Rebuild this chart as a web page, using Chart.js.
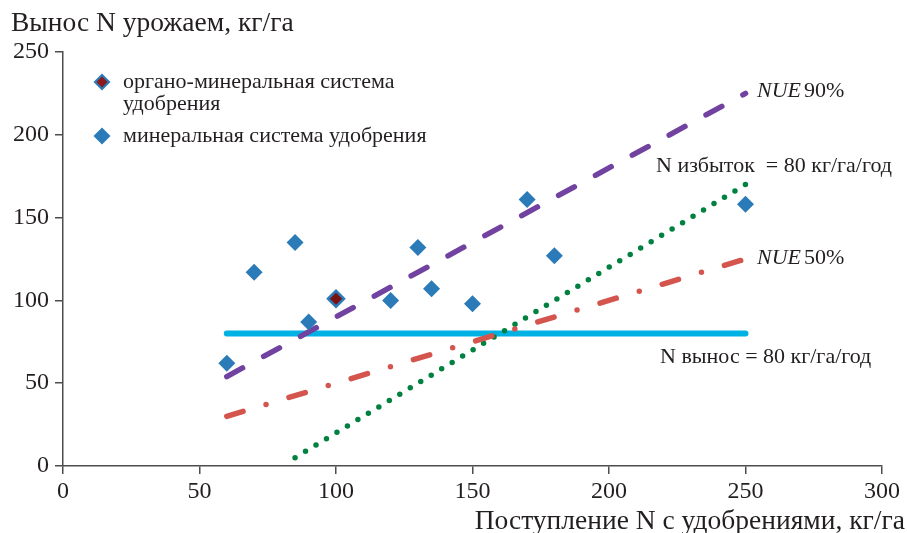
<!DOCTYPE html>
<html>
<head>
<meta charset="utf-8">
<script src="https://cdn.jsdelivr.net/npm/chart.js@4.4.1/dist/chart.umd.min.js"></script>
<style>
body { margin: 0; background: #fff; }
#wrap { width: 907px; height: 533px; }
</style>
</head>
<body>
<div id="wrap"><canvas id="grafico"></canvas></div>
<script>
// минеральная система удобрения
const dozaMin = [60, 70, 85, 90, 120, 130, 135, 150, 170, 180, 250];
const vynosMin = [62, 117, 135, 87, 100, 132, 107, 98, 161, 127, 158];
// органо-минеральная система удобрения
const dozaOrg = [100];
const vynosOrg = [101];
// линии
const liniyaX = [60, 250];
const nue90 = [54, 225];
const nue50 = [30, 125];
const izbytokX = [85, 250];
const izbytokY = [5, 170];
const vynos80 = [80, 80];

const xMax = 300;
const yMax = 250;
const shag = 50;

const tochki = (xs, ys) => xs.map((x, i) => ({ x: x, y: ys[i] }));

const cvetTekst = "#231f20";
const cvetOs = "#4d4d4f";
const sinij = "#2b7bb9";

const podpisi = {
    id: "podpisi",
    afterDraw(chart) {
        const ctx = chart.ctx;
        ctx.save();
        ctx.fillStyle = cvetTekst;
        ctx.textBaseline = "alphabetic";

        ctx.font = "27.5px 'Liberation Serif'";
        ctx.textAlign = "left";
        ctx.fillText("Вынос N урожаем, кг/га", 11, 31, 285);
        ctx.textAlign = "right";
        ctx.fillText("Поступление N с удобрениями, кг/га", 905, 529, 440);

        // легенда
        const romb = (cx, cy, r, fon) => {
            ctx.beginPath();
            ctx.moveTo(cx, cy - r);
            ctx.lineTo(cx + r, cy);
            ctx.lineTo(cx, cy + r);
            ctx.lineTo(cx - r, cy);
            ctx.closePath();
            ctx.fillStyle = fon;
            ctx.fill();
        };
        romb(102, 82, 8.5, sinij);
        romb(102, 82, 5.5, "#8b1a1a");
        romb(102, 136, 8.5, sinij);

        ctx.fillStyle = cvetTekst;
        ctx.textAlign = "left";
        ctx.font = "22px 'Liberation Serif'";
        ctx.fillText("органо-минеральная система", 123, 88, 276);
        ctx.fillText("удобрения", 123, 110);
        ctx.fillText("минеральная система удобрения", 123, 142, 310);

        // подписи линий
        const kursiv = (x, y, t1, t2) => {
            ctx.font = "italic 22px 'Liberation Serif'";
            ctx.fillText(t1, x, y);
            const w = ctx.measureText(t1).width;
            ctx.font = "22px 'Liberation Serif'";
            ctx.fillText(t2, x + w + 3, y);
        };
        kursiv(757, 97, "NUE", "90%");
        kursiv(757, 264, "NUE", "50%");
        ctx.font = "22px 'Liberation Serif'";
        ctx.fillText("N избыток  = 80 кг/га/год", 656, 172, 243);
        ctx.fillText("N вынос = 80 кг/га/год", 660, 363, 218);
        ctx.restore();
    }
};

new Chart(document.getElementById("grafico"), {
    type: "scatter",
    data: {
        datasets: [
            {
                label: "органо-минеральная система удобрения",
                data: tochki(dozaOrg, vynosOrg),
                pointStyle: "rectRot",
                pointRadius: 8,
                backgroundColor: "#7a1212",
                borderColor: sinij,
                borderWidth: 2.5,
                order: 0
            },
            {
                label: "минеральная система удобрения",
                data: tochki(dozaMin, vynosMin),
                pointStyle: "rectRot",
                pointRadius: 8.5,
                backgroundColor: sinij,
                borderColor: sinij,
                borderWidth: 0,
                order: 0
            },
            {
                label: "NUE 90%",
                data: tochki(liniyaX, nue90),
                showLine: true,
                pointRadius: 0,
                borderColor: "#7142a0",
                borderWidth: 5.5,
                borderDash: [18, 24],
                borderCapStyle: "round",
                order: 1
            },
            {
                label: "NUE 50%",
                data: tochki(liniyaX, nue50),
                showLine: true,
                pointRadius: 0,
                borderColor: "#d4554e",
                borderWidth: 5.5,
                borderDash: [17, 24, 0, 24],
                borderCapStyle: "round",
                order: 1
            },
            {
                label: "N избыток",
                data: tochki(izbytokX, izbytokY),
                showLine: true,
                pointRadius: 0,
                borderColor: "#00813f",
                borderWidth: 5.5,
                borderDash: [0, 12.25],
                borderCapStyle: "round",
                order: 1
            },
            {
                label: "N вынос",
                data: tochki(liniyaX, vynos80),
                showLine: true,
                pointRadius: 0,
                borderColor: "#00b1e4",
                borderWidth: 6,
                borderCapStyle: "round",
                order: 1
            }
        ]
    },
    options: {
        responsive: true,
        maintainAspectRatio: false,
        animation: false,
        layout: { padding: { left: 0, right: 25, top: 52, bottom: 0 } },
        plugins: {
            legend: { display: false },
            tooltip: { enabled: false }
        },
        scales: {
            x: {
                type: "linear",
                min: 0,
                max: xMax,
                ticks: {
                    stepSize: shag,
                    color: cvetTekst,
                    font: { family: "'Liberation Serif'", size: 24 },
                    padding: 3,
                    maxRotation: 0
                },
                grid: { drawOnChartArea: false, drawTicks: true, tickLength: 8, color: cvetOs, lineWidth: 1.5 },
                border: { display: true, color: cvetOs, width: 1.5 },
                afterFit(scale) { scale.height = 67; }
            },
            y: {
                type: "linear",
                min: 0,
                max: yMax,
                ticks: {
                    stepSize: shag,
                    color: cvetTekst,
                    font: { family: "'Liberation Serif'", size: 24 },
                    padding: 6
                },
                grid: { drawOnChartArea: false, drawTicks: true, tickLength: 8, color: cvetOs, lineWidth: 1.5 },
                border: { display: true, color: cvetOs, width: 1.5 },
                afterFit(scale) { scale.width = 63; }
            }
        }
    },
    plugins: [podpisi]
});
</script>
</body>
</html>
